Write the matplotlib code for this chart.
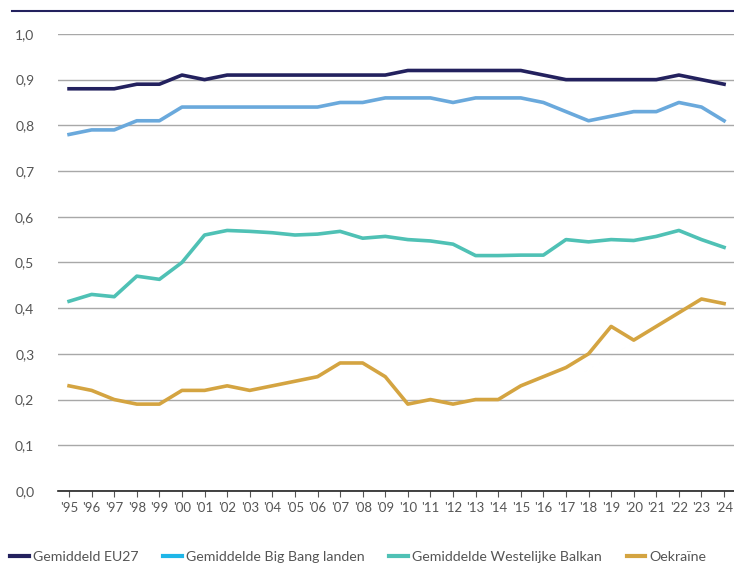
import matplotlib
matplotlib.use('Agg')
import matplotlib.pyplot as plt
from matplotlib.lines import Line2D

plt.rcParams['font.family'] = ['Lato', 'DejaVu Sans']

years = ["'95", "'96", "'97", "'98", "'99", "'00", "'01", "'02", "'03", "'04",
         "'05", "'06", "'07", "'08", "'09", "'10", "'11", "'12", "'13", "'14",
         "'15", "'16", "'17", "'18", "'19", "'20", "'21", "'22", "'23", "'24"]

eu27 = [0.88, 0.88, 0.88, 0.89, 0.89, 0.91, 0.90, 0.91, 0.91, 0.91,
        0.91, 0.91, 0.91, 0.91, 0.91, 0.92, 0.92, 0.92, 0.92, 0.92,
        0.92, 0.91, 0.90, 0.90, 0.90, 0.90, 0.90, 0.91, 0.90, 0.89]
big_bang = [0.78, 0.79, 0.79, 0.81, 0.81, 0.84, 0.84, 0.84, 0.84, 0.84,
            0.84, 0.84, 0.85, 0.85, 0.86, 0.86, 0.86, 0.85, 0.86, 0.86,
            0.86, 0.85, 0.83, 0.81, 0.82, 0.83, 0.83, 0.85, 0.84, 0.81]
balkan = [0.415, 0.43, 0.425, 0.47, 0.463, 0.50, 0.56, 0.57, 0.568, 0.565,
          0.56, 0.562, 0.568, 0.553, 0.557, 0.55, 0.547, 0.54, 0.515, 0.515,
          0.516, 0.516, 0.55, 0.545, 0.55, 0.548, 0.557, 0.57, 0.55, 0.533]
oekraine = [0.23, 0.22, 0.20, 0.19, 0.19, 0.22, 0.22, 0.23, 0.22, 0.23,
            0.24, 0.25, 0.28, 0.28, 0.25, 0.19, 0.20, 0.19, 0.20, 0.20,
            0.23, 0.25, 0.27, 0.30, 0.36, 0.33, 0.36, 0.39, 0.42, 0.41]

labels = ["Gemiddeld EU27", "Gemiddelde Big Bang landen",
          "Gemiddelde Westelijke Balkan", "Oekraïne"]
line_colors = ["#23215e", "#6aa9dc", "#4fc1b5", "#d4a441"]
legend_colors = ["#23215e", "#1fb6e8", "#4fc1b5", "#d4a441"]
yticks = [0.0, 0.1, 0.2, 0.3, 0.4, 0.5, 0.6, 0.7, 0.8, 0.9, 1.0]

fig = plt.figure(figsize=(7.34, 5.81), dpi=100)
ax = fig.add_axes([0.079, 0.155, 0.921, 0.7866])

x = list(range(len(years)))
for series, col in zip([eu27, big_bang, balkan, oekraine], line_colors):
    ax.plot(x, series, color=col, lw=2.6, solid_joinstyle='round', zorder=3)

ax.set_xlim(-0.49, 29.44)
ax.set_ylim(0, 1.0)
ax.set_yticks(yticks)
ax.set_yticklabels([f"{v:.1f}".replace('.', ',') for v in yticks])
ax.set_xticks(x)
ax.set_xticklabels(years)
ax.grid(axis='y', color='#a8a8a8', lw=1.0, zorder=1)
for s in ['top', 'right', 'left']:
    ax.spines[s].set_visible(False)
ax.spines['bottom'].set_color('#222222')
ax.spines['bottom'].set_linewidth(1.2)
ax.tick_params(axis='y', length=0, pad=17, labelsize=10, labelcolor='#555555')
ax.tick_params(axis='x', length=4, width=0.8, color='#555555', pad=4,
               labelsize=9.5, labelcolor='#555555')

# top rule
fig.add_artist(Line2D([12/734, 1.0], [1 - 11/581, 1 - 11/581], color='#23215e', lw=1.5))

handles = [Line2D([], [], color=c, lw=3) for c in legend_colors]
fig.legend(handles, labels, loc='center left', bbox_to_anchor=(0.014, 0.041), ncol=4,
           frameon=False, handlelength=1.3, handletextpad=0.3, columnspacing=1.75,
           borderpad=0, borderaxespad=0,
           prop={'size': 10.2}, labelcolor='#555555')

fig.savefig('out.png', dpi=100)
